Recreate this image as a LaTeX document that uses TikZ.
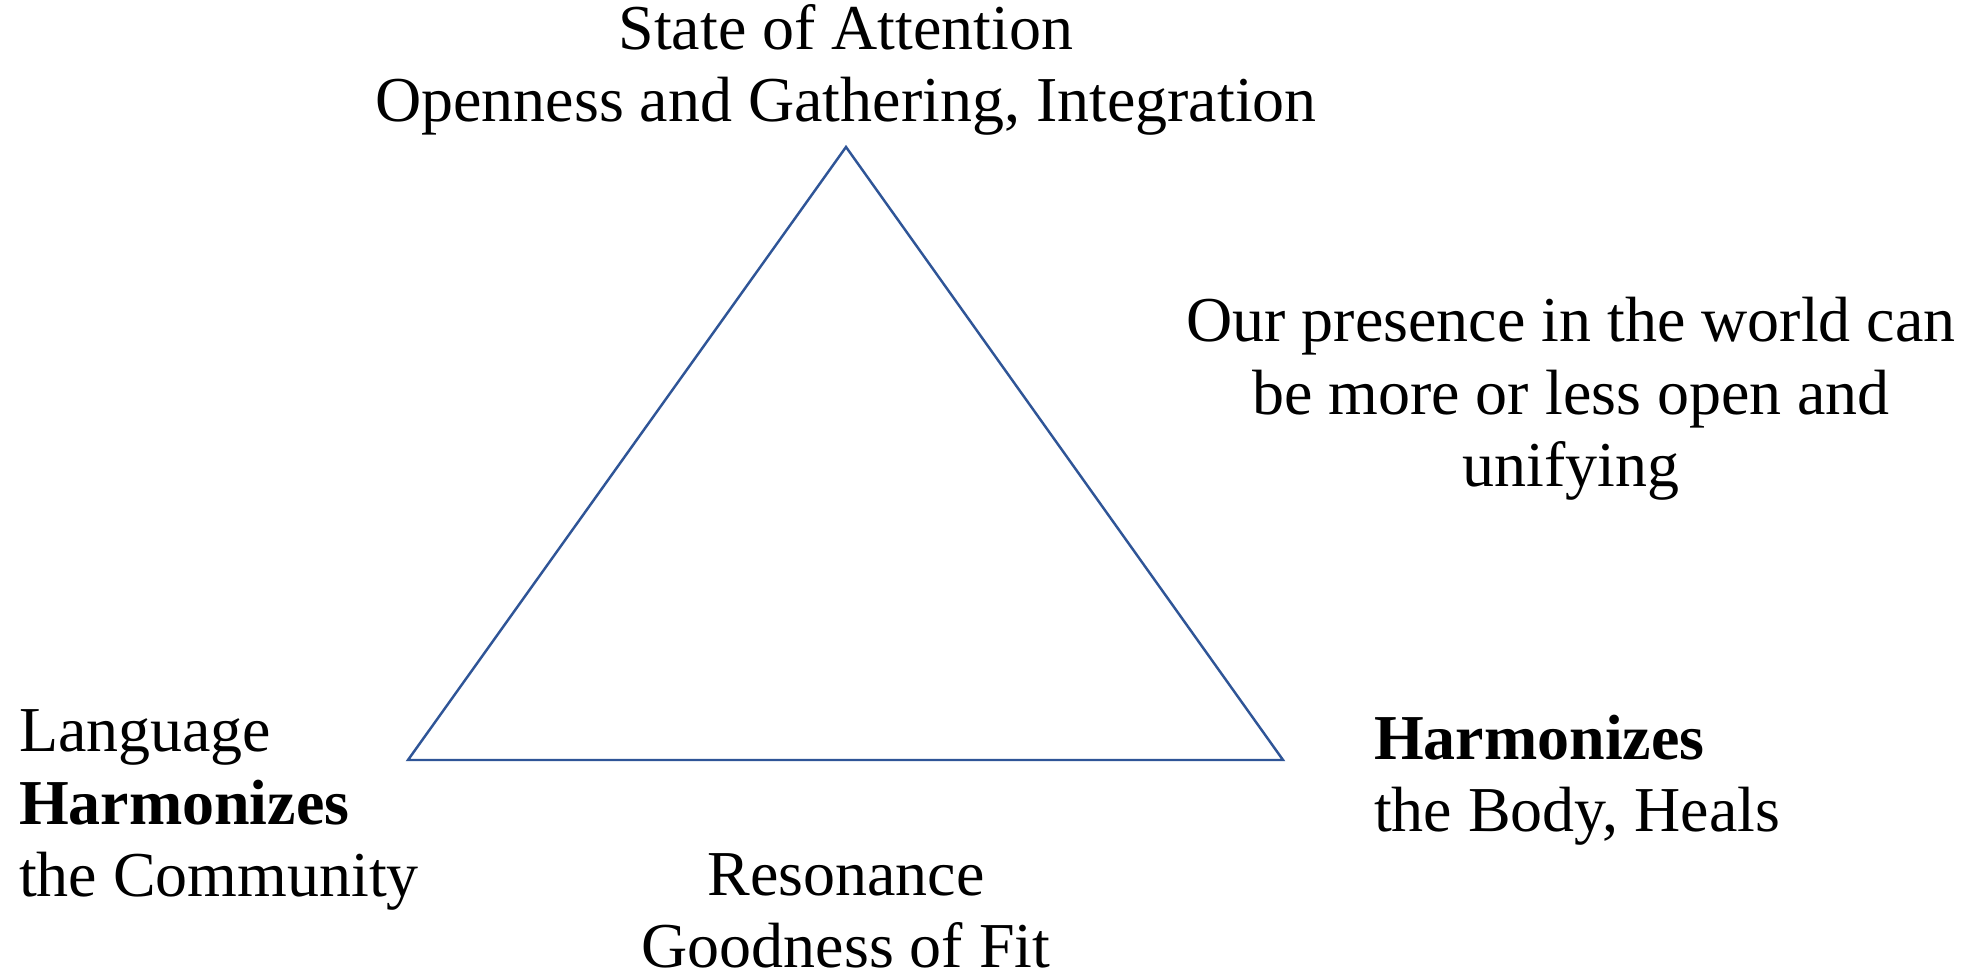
\documentclass[tikz,border=0pt]{standalone}
\usepackage{fontspec}
\setmainfont{Liberation Serif}
\usepackage{tikz}
\usetikzlibrary{positioning}
\definecolor{edgeblue}{RGB}{47,85,151}
\tikzset{
	Caption/.style={inner sep=0pt,outer sep=0pt,font=\fontsize{18.2}{20.6}\selectfont},
	Side/.style={edgeblue,line width=0.7pt,line join=miter}
}

\begin{document}
\begin{tikzpicture}[
	hidden/.style={inner sep=0, outer sep=0}]
	\useasboundingbox (0,0) rectangle (19.75,9.73);
	\coordinate (node_top) at (8.46,8.26);
	\coordinate (node_left) at (4.08,2.13);
	\coordinate (node_right) at (12.83,2.13);
	\draw [Side] (node_top) -- (node_right) -- (node_left) -- cycle;
	% texts round the triangle
	\node [Caption,align=center] (text_top) at (8.46,9.03)
		{State of Attention\\Openness and Gathering, Integration};
	\node [Caption,align=center] (text_note) at (15.71,5.74)
		{Our presence in the world can\\be more or less open and\\unifying};
	\node [Caption,align=left,anchor=west] (text_left) at (0.19,1.63)
		{Language\\\textbf{Harmonizes}\\the Community};
	\node [Caption,align=left,anchor=west] (text_right) at (13.74,1.93)
		{\textbf{Harmonizes}\\the Body, Heals};
	\node [Caption,align=center] (text_bottom) at (8.46,0.62)
		{Resonance\\Goodness of Fit};
\end{tikzpicture}
\end{document}
